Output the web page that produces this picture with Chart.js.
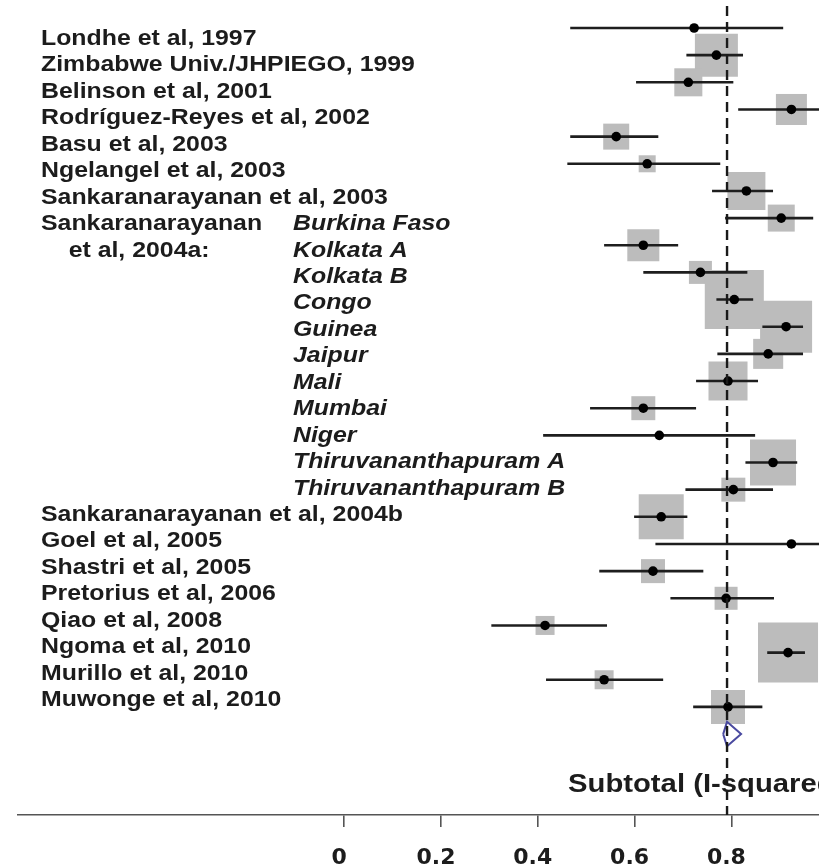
<!DOCTYPE html>
<html>
<head>
<meta charset="utf-8">
<script src="https://cdn.jsdelivr.net/npm/chart.js@4.4.1/dist/chart.umd.min.js"></script>
<style>
    html, body { margin: 0; padding: 0; background: #fff; }
    #wrap { width: 819px; height: 865px; position: relative; }
</style>
</head>
<body>
<div id="wrap"><canvas id="forest"></canvas></div>
<script>
/* Study labels (left column) and sites of the 2004a multicentre study */
const studies = [
    "Londhe et al, 1997",
    "Zimbabwe Univ./JHPIEGO, 1999",
    "Belinson et al, 2001",
    "Rodríguez-Reyes et al, 2002",
    "Basu et al, 2003",
    "Ngelangel et al, 2003",
    "Sankaranarayanan et al, 2003",
    "Sankaranarayanan",
    "    et al, 2004a:",
    "", "", "", "", "", "", "", "", "",
    "Sankaranarayanan et al, 2004b",
    "Goel et al, 2005",
    "Shastri et al, 2005",
    "Pretorius et al, 2006",
    "Qiao et al, 2008",
    "Ngoma et al, 2010",
    "Murillo et al, 2010",
    "Muwonge et al, 2010"
];
const sites = [
    "", "", "", "", "", "", "",
    "Burkina Faso", "Kolkata A", "Kolkata B", "Congo", "Guinea", "Jaipur",
    "Mali", "Mumbai", "Niger", "Thiruvananthapuram A", "Thiruvananthapuram B",
    "", "", "", "", "", "", "", ""
];

/* Estimates with 95% CI, and study weights (%) */
const estimate = [0.723, 0.769, 0.711, 0.924, 0.562, 0.626, 0.831, 0.903, 0.618, 0.736,
                  0.806, 0.913, 0.876, 0.793, 0.618, 0.651, 0.886, 0.804, 0.655, 0.924,
                  0.638, 0.789, 0.415, 0.917, 0.537, 0.793];
const lower    = [0.467, 0.707, 0.603, 0.814, 0.467, 0.461, 0.760, 0.787, 0.537, 0.618,
                  0.769, 0.864, 0.771, 0.727, 0.508, 0.411, 0.829, 0.705, 0.599, 0.643,
                  0.527, 0.674, 0.304, 0.874, 0.417, 0.721];
const upper    = [0.907, 0.824, 0.804, 1.00, 0.649, 0.777, 0.886, 0.969, 0.690, 0.833,
                  0.845, 0.948, 0.948, 0.855, 0.727, 0.849, 0.936, 0.886, 0.709, 1.00,
                  0.742, 0.888, 0.543, 0.952, 0.659, 0.864];
const weights  = [0.12, 6.40, 2.72, 3.33, 2.34, 1.00, 5.00, 2.52, 3.55, 1.83,
                  12.06, 9.36, 3.12, 5.27, 1.99, 0.12, 7.33, 1.99, 7.01, 0.12,
                  1.99, 1.83, 1.25, 12.47, 1.25, 4.00];

/* Pooled estimate (subtotal) */
const pooledLow = 0.783;
const pooledEst = 0.791;
const pooledHigh = 0.820;

const xTicks = [0, 0.2, 0.4, 0.6, 0.8];

const subtotalText = "Subtotal (I-squared";

const rows = estimate.map((v, i) => i);
const diamondRow = studies.length;

/* ---- datasets ---- */
const boxData = estimate.map((v, i) => ({ x: v, y: i }));
const boxRadius = weights.map(w => 17 * Math.sqrt(w) / Math.SQRT2);

const ciSets = rows.map(i => ({
    type: "line",
    data: [{ x: lower[i], y: i }, { x: upper[i], y: i }],
    borderColor: "#1e1e1e",
    borderWidth: 2.6,
    pointRadius: 0,
    showLine: true,
    order: 1
}));

const dh = 0.45;
const diamond = {
    type: "line",
    data: [
        { x: pooledLow, y: diamondRow },
        { x: pooledEst, y: diamondRow - dh },
        { x: pooledHigh, y: diamondRow },
        { x: pooledEst, y: diamondRow + dh },
        { x: pooledLow, y: diamondRow }
    ],
    borderColor: "#4a4aa0",
    borderWidth: 2,
    pointRadius: 0,
    showLine: true,
    tension: 0,
    order: 0
};

/* Dashed overall line + study text */
const forestText = {
    id: "forestText",
    afterDatasetsDraw(chart) {
        const { ctx, chartArea } = chart;
        const x = chart.scales.x;
        const px = x.getPixelForValue(pooledEst);
        ctx.save();
        ctx.strokeStyle = "#1a1a1a";
        ctx.lineWidth = 2.4;
        ctx.setLineDash([10, 6]);
        ctx.beginPath();
        ctx.moveTo(px, chartArea.top + 6);
        ctx.lineTo(px, chartArea.bottom);
        ctx.stroke();
        ctx.restore();
    },
    afterDraw(chart) {
        const { ctx } = chart;
        const yt = chart.scales.y2;
        const stretch = 1.13;

        function put(text, x, y, font) {
            ctx.save();
            ctx.font = font;
            ctx.fillStyle = "#1c1c1c";
            ctx.textBaseline = "alphabetic";
            ctx.translate(x, y);
            ctx.scale(stretch, 1);
            ctx.fillText(text, 0, 0);
            ctx.restore();
        }

        studies.forEach((s, i) => {
            if (s) put(s, 41, yt.getPixelForValue(i), "bold 22px 'Liberation Sans', Arial, sans-serif");
        });
        sites.forEach((s, i) => {
            if (s) put(s, 293, yt.getPixelForValue(i), "italic bold 22px 'Liberation Sans', Arial, sans-serif");
        });
        put(subtotalText, 568, yt.getPixelForValue(diamondRow + 2.25),
            "bold 25.9px 'Liberation Sans', Arial, sans-serif");
    }
};

new Chart(document.getElementById("forest"), {
    type: "scatter",
    data: {
        datasets: [
            {
                data: estimate.map((v, i) => ({ x: v, y: i })),
                pointStyle: "circle",
                pointRadius: 4.8,
                backgroundColor: "#000",
                borderWidth: 0,
                order: 0
            },
            ...ciSets,
            diamond,
            {
                data: boxData,
                pointStyle: "rect",
                pointRadius: boxRadius,
                backgroundColor: "#bcbcbc",
                borderWidth: 0,
                order: 2
            }
        ]
    },
    options: {
        responsive: true,
        maintainAspectRatio: false,
        animation: false,
        events: [],
        layout: { autoPadding: false, padding: { left: 18, right: 0, top: 0, bottom: 0 } },
        plugins: {
            legend: { display: false },
            tooltip: { enabled: false }
        },
        scales: {
            x: {
                type: "linear",
                min: -0.674,
                max: 0.981,
                afterBuildTicks: s => { s.ticks = xTicks.map(v => ({ value: v })); },
                afterFit: s => { s.height = 50; },
                border: { display: true, color: "#555", width: 1.6 },
                grid: {
                    drawOnChartArea: false,
                    drawTicks: true,
                    tickLength: 12,
                    color: "#555",
                    lineWidth: 1.6
                },
                ticks: {
                    autoSkip: false,
                    maxRotation: 0,
                    padding: 18,
                    labelOffset: -5,
                    color: "#1c1c1c",
                    font: { family: "'DejaVu Sans'", weight: "bold", size: 22 },
                    callback: v => String(v)
                }
            },
            y: {
                type: "linear",
                display: false,
                reverse: true,
                min: -1.031,
                max: 28.98
            },
            y2: {
                type: "linear",
                display: false,
                reverse: true,
                min: -1.702,
                max: 29.12
            }
        }
    },
    plugins: [forestText]
});
</script>
</body>
</html>
